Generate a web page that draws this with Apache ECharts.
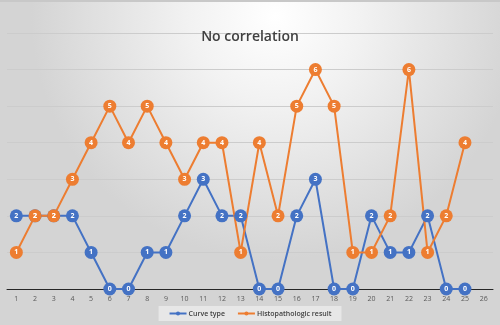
<!DOCTYPE html>
<html>
<head>
<meta charset="utf-8">
<script src="https://cdn.jsdelivr.net/npm/echarts@6/dist/echarts.min.js"></script>
<style>html,body{margin:0;padding:0;}#c{width:500px;height:325px;}</style>
</head>
<body>
<div id="c"></div>
<script>
var categories = ['1','2','3','4','5','6','7','8','9','10','11','12','13','14','15','16','17','18','19','20','21','22','23','24','25','26'];
var curveType = [2,2,2,2,1,0,0,1,1,2,3,2,2,0,0,2,3,0,0,2,1,1,2,0,0];
var histoResult = [1,2,2,3,4,5,4,5,4,3,4,4,1,4,2,5,6,5,1,1,2,6,1,2,4];
var seriesNames = ['Curve type','Histopathologic result'];

var chart = echarts.init(document.getElementById('c'), null, {renderer:'canvas'});
function mkSeries(name, data, color){
  return {
    name: name, type: 'line', data: data,
    symbol: 'circle', symbolSize: 13,
    lineStyle: {color: color, width: 2},
    itemStyle: {color: color},
    label: {show: true, position: 'inside', color: '#fff', fontSize: 7, fontWeight: 'bold', fontFamily: 'Open Sans'},
    emphasis: {disabled: true}
  };
}
chart.setOption({
  animation: false,
  graphic: [{
    type: 'rect', z: -10, silent: true,
    shape: {x: 0, y: 0, width: 500, height: 325},
    style: {fill: {type: 'radial', x: 0.55, y: 0.05, r: 0.75,
      colorStops: [{offset: 0, color: '#ffffff'}, {offset: 0.35, color: '#f2f2f2'}, {offset: 1, color: '#d4d4d4'}]}}
  }, {
    type: 'rect', z: -9, silent: true,
    shape: {x: 0, y: 0, width: 500, height: 2},
    style: {fill: '#c8c8c8'}
  }],
  title: {
    text: 'No correlation', left: 'center', top: 25,
    textStyle: {fontSize: 14, fontWeight: 600, color: '#404040', fontFamily: 'Open Sans'}
  },
  legend: {
    data: seriesNames, bottom: 4, left: 'center',
    itemWidth: 17, itemHeight: 5, itemGap: 12,
    backgroundColor: 'rgba(240,240,240,0.7)', padding: [4, 10],
    textStyle: {fontSize: 7, color: '#404040', fontWeight: 600, fontFamily: 'Open Sans', padding: [0, 0, 0, -3]}
  },
  grid: {left: 7, right: 7, top: 33, bottom: 36, containLabel: false},
  xAxis: {
    type: 'category', data: categories, boundaryGap: true,
    axisLine: {lineStyle: {color: '#262626', width: 1}},
    axisTick: {show: false},
    axisLabel: {fontSize: 7, color: '#595959', margin: 6, fontFamily: 'Open Sans'}
  },
  yAxis: {
    type: 'value', min: 0, max: 7, interval: 1,
    axisLabel: {show: false}, axisLine: {show: false}, axisTick: {show: false},
    splitLine: {lineStyle: {color: '#cccccc', width: 1}}
  },
  series: [mkSeries(seriesNames[0], curveType, '#4472C4'), mkSeries(seriesNames[1], histoResult, '#ED7D31')]
});
</script>
</body>
</html>
